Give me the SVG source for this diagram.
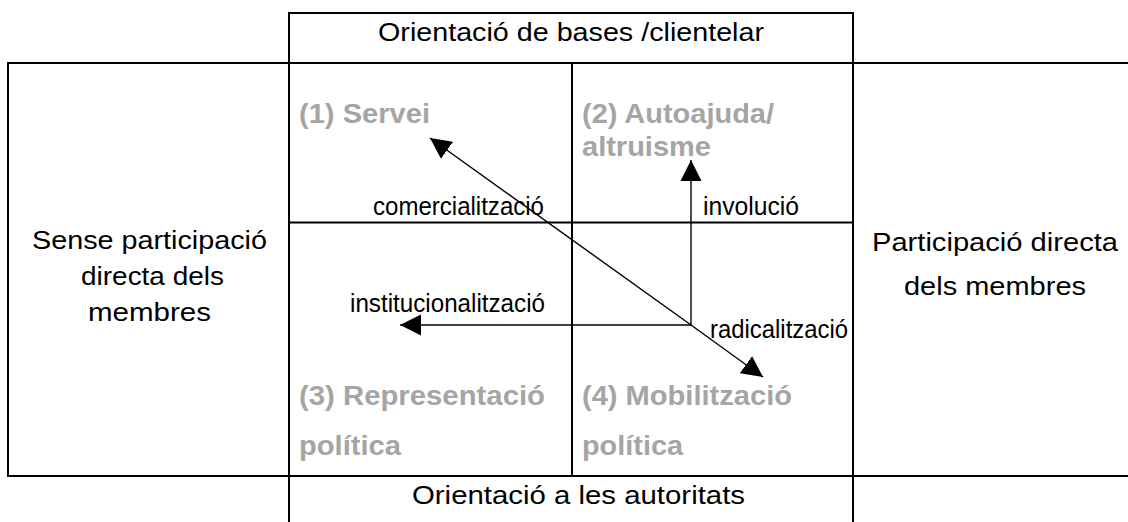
<svg xmlns="http://www.w3.org/2000/svg" width="1128" height="522" viewBox="0 0 1128 522">
<style>
.b{stroke:#000;stroke-width:2;fill:none}
.t{font-family:"Liberation Sans",Arial,sans-serif;font-size:26px;fill:#000}
.g{font-family:"Liberation Sans",Arial,sans-serif;font-size:27px;font-weight:bold;fill:#a5a5a5}
.n{font-family:"Liberation Sans",Arial,sans-serif;font-size:25px;fill:#000}
.a{stroke:#000;stroke-width:1.4;fill:none;marker-end:url(#ah)}
</style>
<defs>
<marker id="ah" markerUnits="userSpaceOnUse" markerWidth="22" markerHeight="22" refX="21" refY="10.5" orient="auto" viewBox="0 0 22 21">
<path d="M0,0 L21,10.5 L0,21 z" fill="#000"/>
</marker>
</defs>
<rect width="1128" height="522" fill="#fff"/>
<g id="grid">
<line class="b" x1="289" y1="13" x2="853" y2="13"/>
<line class="b" x1="289" y1="12" x2="289" y2="522"/>
<line class="b" x1="853" y1="12" x2="853" y2="522"/>
<line class="b" x1="8" y1="63" x2="1128" y2="63"/>
<line class="b" x1="8" y1="476" x2="1128" y2="476"/>
<line class="b" x1="8" y1="62" x2="8" y2="477"/>
<line class="b" x1="572" y1="63" x2="572" y2="476"/>
<line class="b" x1="289" y1="222.5" x2="853" y2="222.5"/>
</g>
<g id="top"><text class="t" x="378" y="41" textLength="386" lengthAdjust="spacingAndGlyphs">Orientació de bases /clientelar</text></g>
<g id="left">
<text class="t" x="32" y="249" textLength="235" lengthAdjust="spacingAndGlyphs">Sense participació</text>
<text class="t" x="81" y="285" textLength="143" lengthAdjust="spacingAndGlyphs">directa dels</text>
<text class="t" x="88" y="321" textLength="123" lengthAdjust="spacingAndGlyphs">membres</text>
</g>
<g id="right">
<text class="t" x="872" y="251" textLength="246" lengthAdjust="spacingAndGlyphs">Participació directa</text>
<text class="t" x="904" y="295" textLength="182" lengthAdjust="spacingAndGlyphs">dels membres</text>
</g>
<g id="bottom"><text class="t" x="412" y="504" textLength="333" lengthAdjust="spacingAndGlyphs">Orientació a les autoritats</text></g>
<g id="q1"><text class="g" x="299" y="123" textLength="131" lengthAdjust="spacingAndGlyphs">(1) Servei</text></g>
<g id="q2">
<text class="g" x="582" y="123" textLength="192" lengthAdjust="spacingAndGlyphs">(2) Autoajuda/</text>
<text class="g" x="582" y="156" textLength="129" lengthAdjust="spacingAndGlyphs">altruisme</text>
</g>
<g id="q3">
<text class="g" x="299" y="405" textLength="246" lengthAdjust="spacingAndGlyphs">(3) Representació</text>
<text class="g" x="299" y="455" textLength="102" lengthAdjust="spacingAndGlyphs">política</text>
</g>
<g id="q4">
<text class="g" x="582" y="405" textLength="210" lengthAdjust="spacingAndGlyphs">(4) Mobilització</text>
<text class="g" x="582" y="455" textLength="101" lengthAdjust="spacingAndGlyphs">política</text>
</g>
<g id="connectors">
<line class="a" x1="691" y1="325" x2="430" y2="138"/>
<line class="a" x1="691" y1="325" x2="763" y2="377"/>
<line class="a" x1="691" y1="325" x2="691" y2="160"/>
<line class="a" x1="691" y1="325" x2="400" y2="325"/>
<text class="n" x="373" y="215" textLength="171" lengthAdjust="spacingAndGlyphs">comercialització</text>
<text class="n" x="703" y="215" textLength="96" lengthAdjust="spacingAndGlyphs">involució</text>
<text class="n" x="350" y="312" textLength="195" lengthAdjust="spacingAndGlyphs">institucionalització</text>
<text class="n" x="710" y="338" textLength="138" lengthAdjust="spacingAndGlyphs">radicalització</text>
</g>
</svg>
